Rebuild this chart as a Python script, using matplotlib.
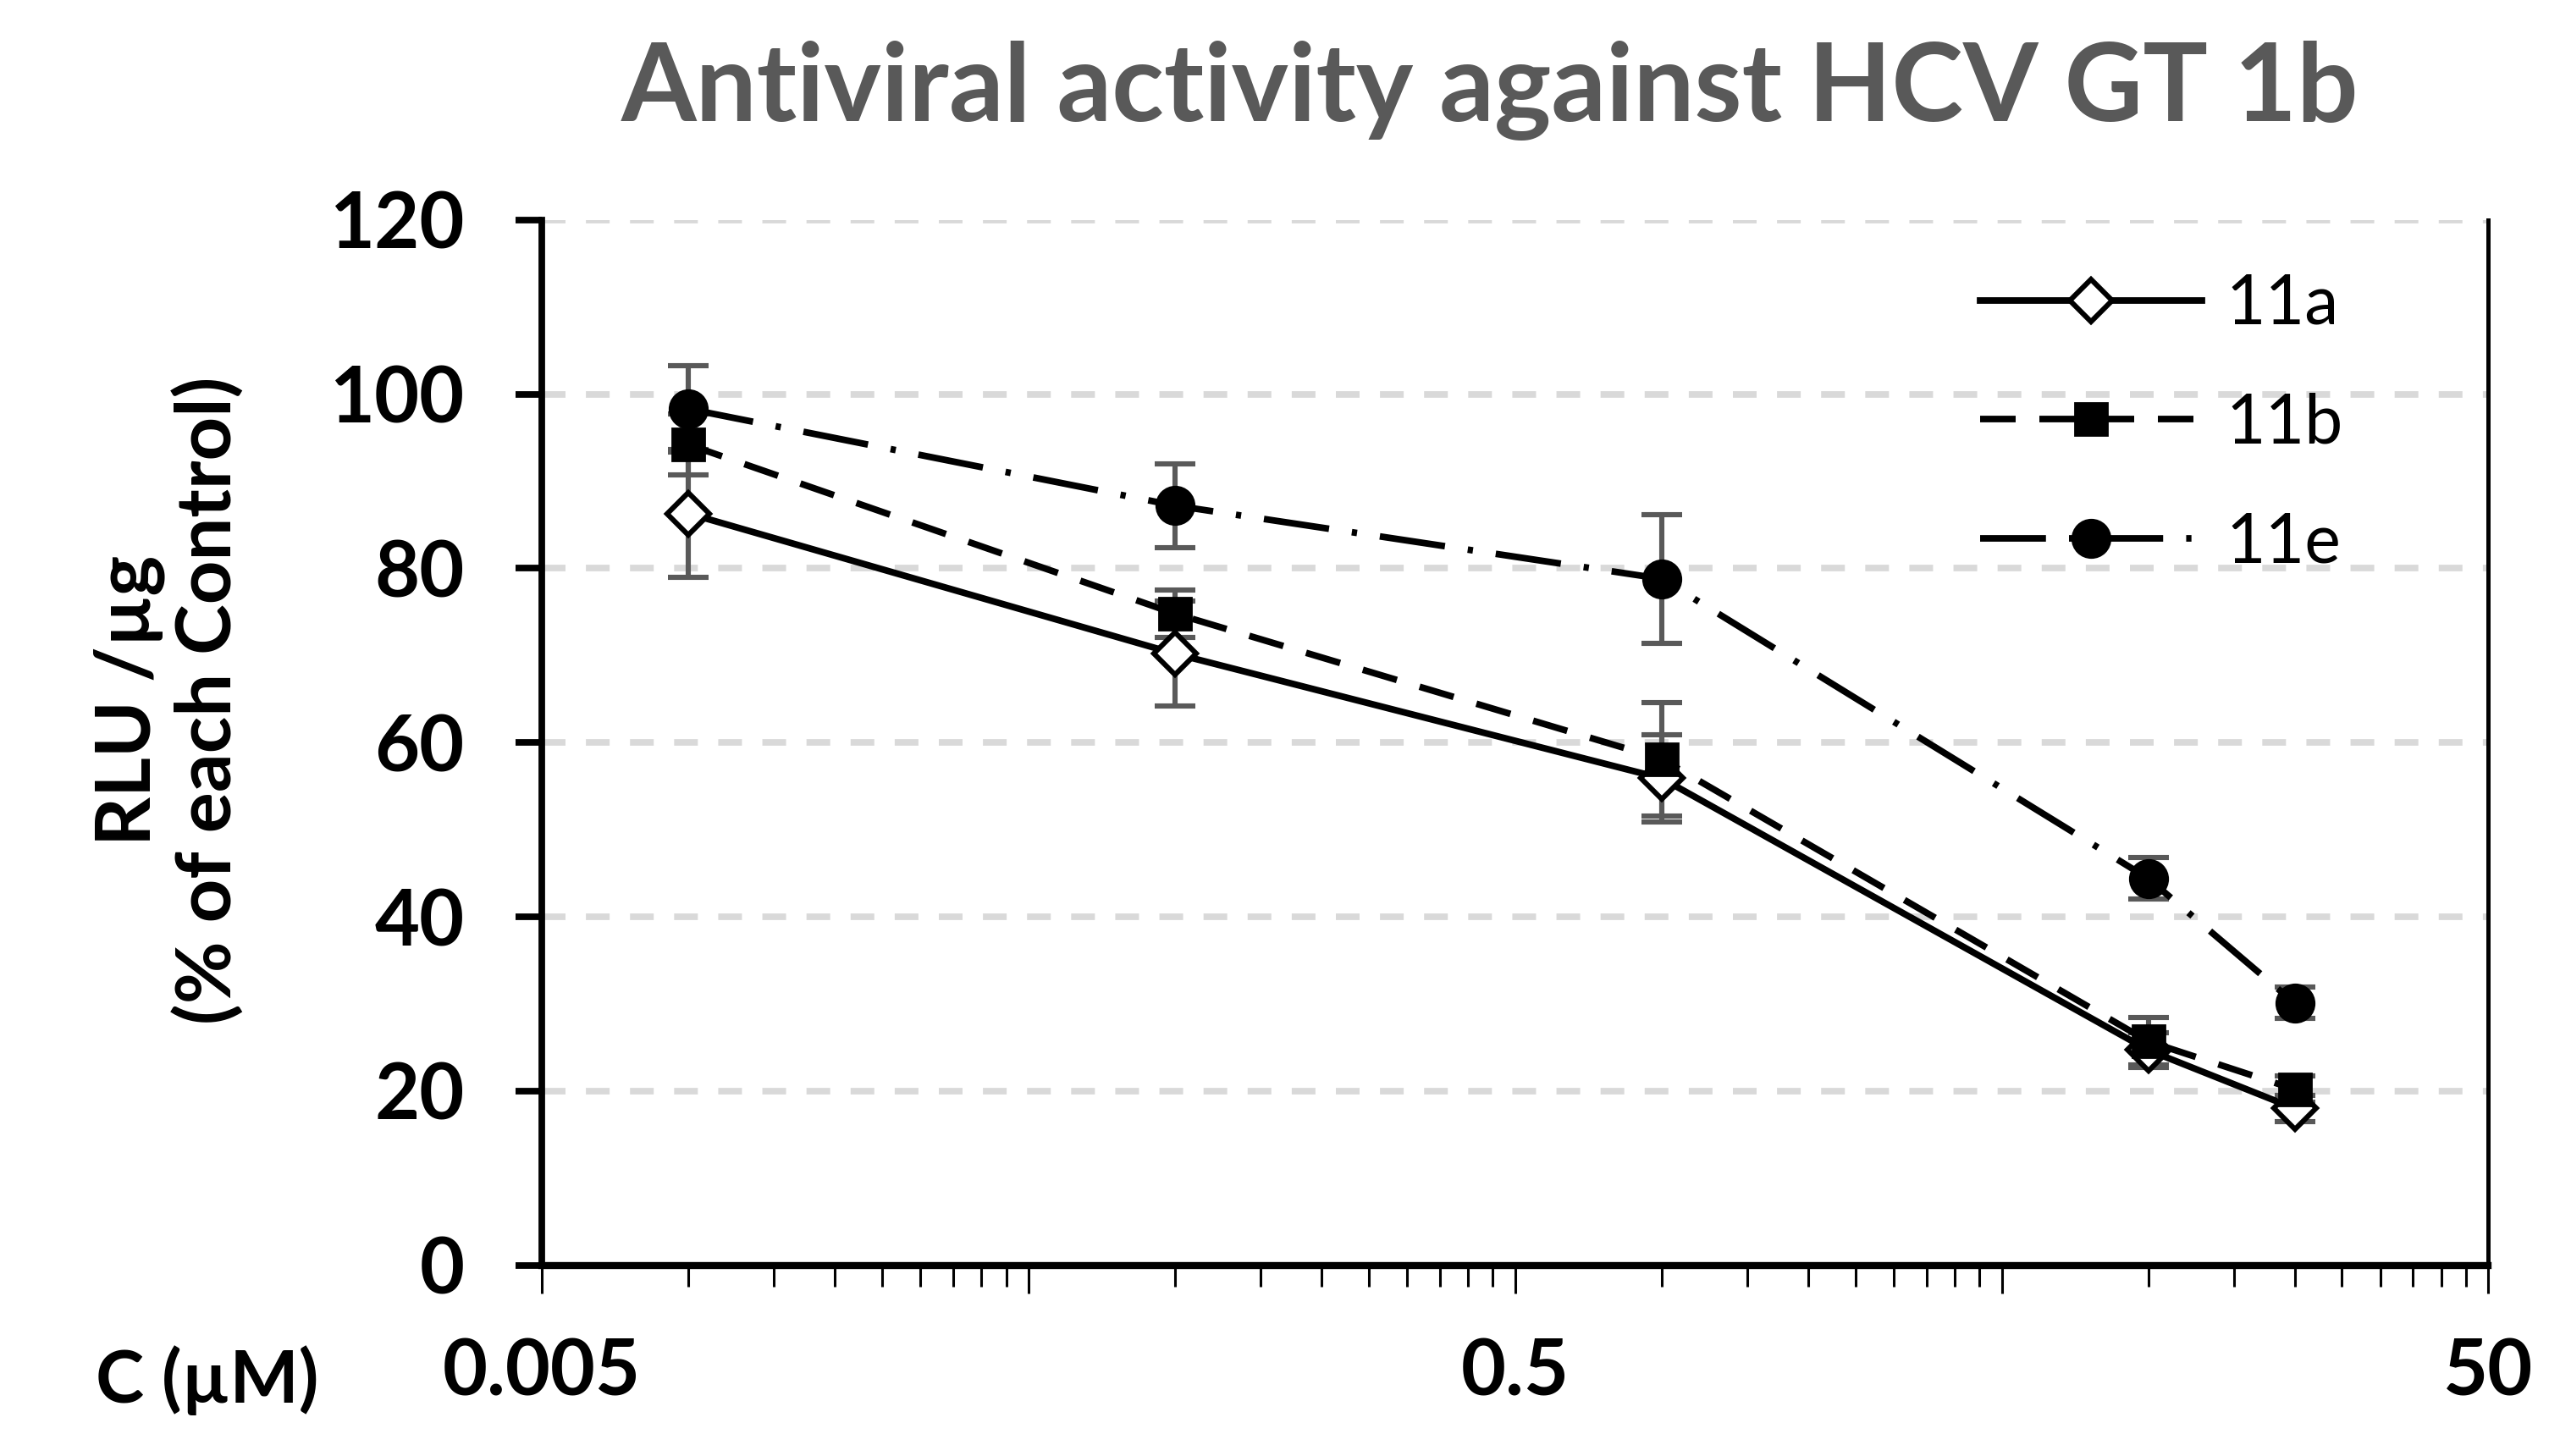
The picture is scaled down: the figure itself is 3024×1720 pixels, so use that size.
import matplotlib
matplotlib.use("Agg")
import matplotlib.pyplot as plt
from matplotlib.ticker import FixedLocator, NullFormatter

plt.rcParams['font.family'] = ['Lato', 'DejaVu Sans']

# data
conc = [0.01, 0.1, 1, 10, 20]
series = ['11a', '11b', '11e']
vals_11a = [86.3, 70.2, 55.9, 24.7, 18.0]
vals_11b = [94.2, 74.8, 58.1, 25.7, 20.2]
vals_11e = [98.3, 87.2, 78.8, 44.4, 30.1]
err_11a = [7.3, 6.0, 5.0, 2.0, 1.5]
err_11b = [3.5, 2.7, 6.5, 2.7, 1.5]
err_11e = [5.0, 4.8, 7.4, 2.4, 1.8]

x_major = [0.005, 0.05, 0.5, 5, 50]
x_labels = ['0.005', '', '0.5', '', '50']
y_ticks = [0, 20, 40, 60, 80, 100, 120]

fig = plt.figure(figsize=(15.12, 8.6), dpi=200)
ax = fig.add_axes([0.2117, 0.131, 0.972 - 0.2117, 0.849 - 0.131])

lw = 2.8
styles = [
    dict(ls='-', marker='D', ms=12.5, mfc='white', mec='black', mew=2.2),
    dict(ls=(0, (5.4, 3.6)), marker='s', ms=14, mfc='black', mec='black'),
    dict(ls=(0, (10, 3.5, 0.8, 3.5)), marker='o', ms=16, mfc='black', mec='black'),
]
data = [(vals_11a, err_11a), (vals_11b, err_11b), (vals_11e, err_11e)]

for (v, e), st, name in zip(data, styles, series):
    ax.errorbar(conc, v, yerr=e, fmt='none', ecolor='#595959', elinewidth=2.2,
                capsize=8.5, capthick=2.2, zorder=3)
    ax.plot(conc, v, color='black', lw=lw, label=name, zorder=4, **st)

ax.set_xscale('log')
ax.set_xlim(0.005, 50)
ax.set_ylim(0, 120)
ax.xaxis.set_major_locator(FixedLocator(x_major))
ax.xaxis.set_minor_locator(FixedLocator([b * k for b in x_major[:-1] for k in range(2, 10)]))
ax.xaxis.set_minor_formatter(NullFormatter())
ax.set_xticklabels(x_labels)
ax.set_yticks(y_ticks)

ax.yaxis.grid(True, color='#d9d9d9', ls=(0, (3.6, 3.1)), lw=2.8, zorder=0)
ax.set_axisbelow(True)

ax.spines['top'].set_visible(False)
ax.spines['left'].set_linewidth(2.8)
ax.spines['bottom'].set_linewidth(3.0)
ax.spines['right'].set_linewidth(1.8)

ax.tick_params(axis='y', direction='out', length=11, width=2.8, pad=22,
               labelsize=33)
ax.tick_params(axis='x', which='major', direction='out', length=12, width=1.1,
               pad=19, labelsize=33)
ax.tick_params(axis='x', which='minor', direction='out', length=9, width=1.1)
for lab in ax.get_xticklabels() + ax.get_yticklabels():
    lab.set_fontweight('bold')

leg = ax.legend(loc='upper left', bbox_to_anchor=(0.739, 0.949), frameon=False,
                fontsize=29, handlelength=3.25, handletextpad=0.35,
                labelspacing=0.83, borderpad=0, borderaxespad=0, numpoints=1)

fig.text(0.582, 0.938, 'Antiviral activity against HCV GT 1b', ha='center',
         va='center', fontsize=46, fontweight='bold', color='#595959')
fig.text(0.066, 0.519, 'RLU /µg\n(% of each Control)', ha='center', va='center',
         rotation=90, fontsize=32.5, fontweight='bold', linespacing=1.13)
fig.text(0.081, 0.052, 'C (µM)', ha='center', va='center', fontsize=31,
         fontweight='bold')

fig.savefig('out.png', dpi=200)
